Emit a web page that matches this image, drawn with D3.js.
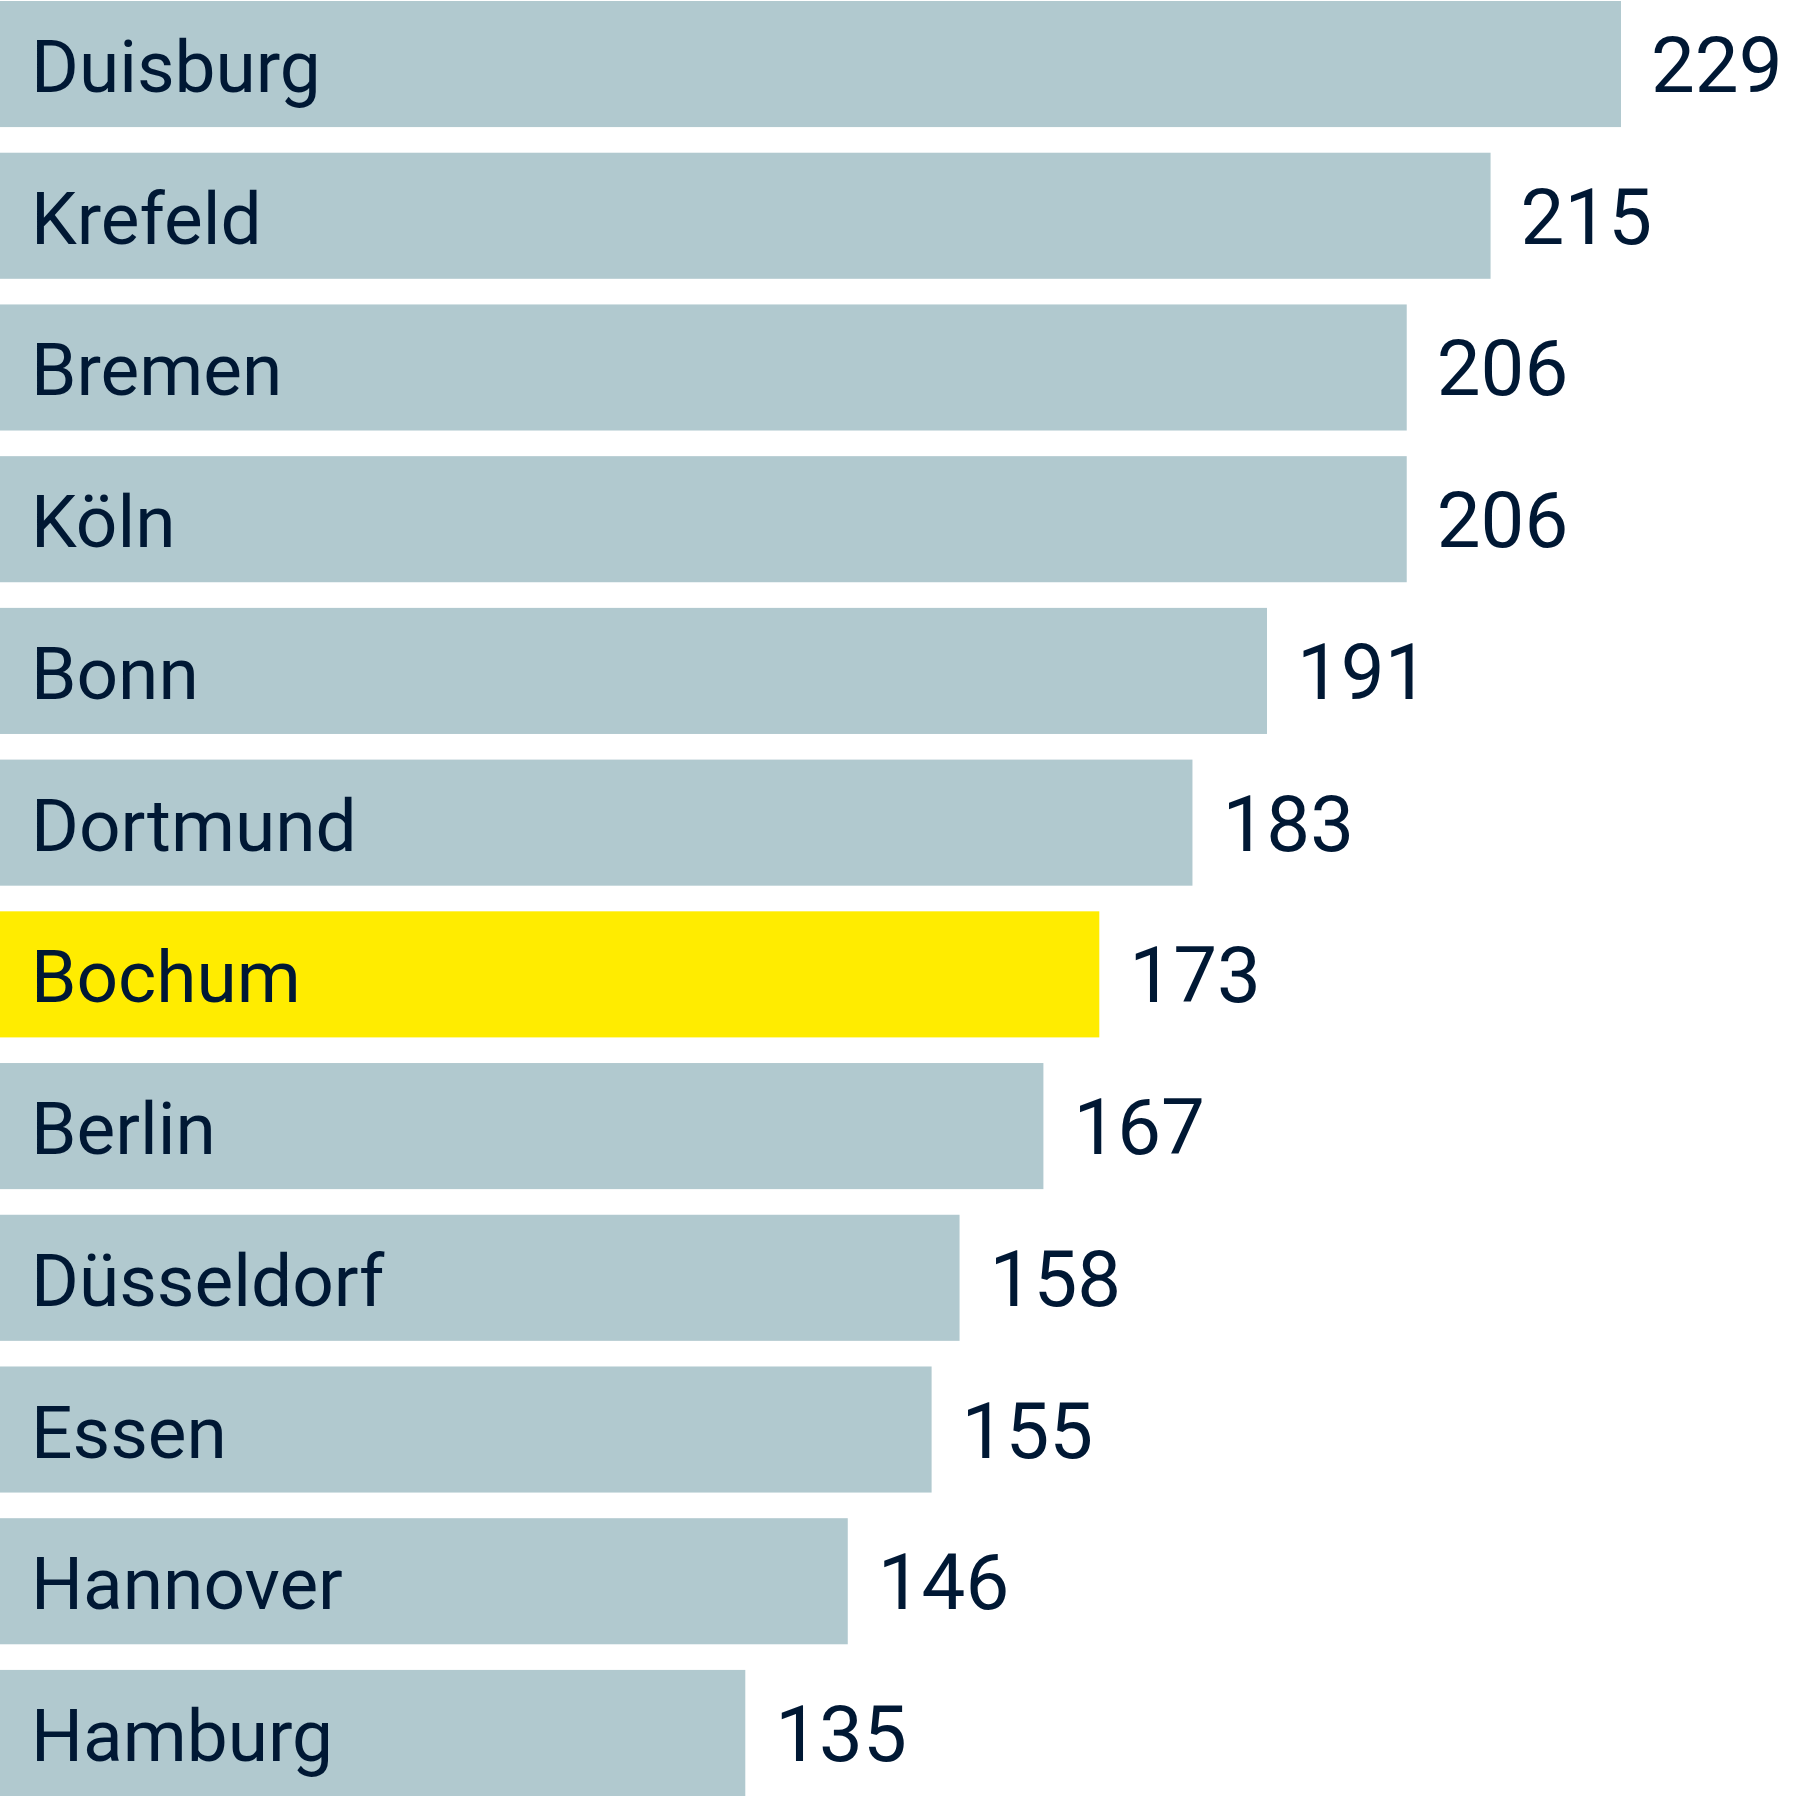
<!DOCTYPE html>
<html>
<head>
<meta charset="utf-8">
<script src="https://cdn.jsdelivr.net/npm/d3@7"></script>
<style>
  html, body { margin: 0; padding: 0; background: #ffffff; }
  svg { display: block; }
</style>
</head>
<body>
<script>
const cities = ["Duisburg", "Krefeld", "Bremen", "Köln", "Bonn", "Dortmund", "Bochum", "Berlin", "Düsseldorf", "Essen", "Hannover", "Hamburg"];
const values = [229, 215, 206, 206, 191, 183, 173, 167, 158, 155, 146, 135];
const highlight = ["Bochum"];

const W = 1800, H = 1800;
const svg = d3.select("body").append("svg").attr("width", W).attr("height", H);

const data = cities.map((c, i) => ({ city: c, value: values[i] }));

const x = d3.scaleLinear().domain([55, 229]).range([0, 1621]);
const y = d3.scaleBand().domain(cities).range([1, 1796]).paddingInner(0.169).paddingOuter(0);

const g = svg.append("g");

g.selectAll("rect.bar").data(data).join("rect")
  .attr("class", "bar")
  .attr("x", 0)
  .attr("y", d => y(d.city))
  .attr("width", d => x(d.value))
  .attr("height", y.bandwidth())
  .attr("fill", d => highlight.includes(d.city) ? "#ffec00" : "#b1c9cf");

g.selectAll("text.name").data(data).join("text")
  .attr("class", "name")
  .attr("x", 31)
  .attr("y", d => y(d.city) + y.bandwidth() / 2 + 28)
  .attr("font-family", "Roboto, sans-serif")
  .attr("font-size", 73)
  .attr("fill", "#001834")
  .text(d => d.city);

g.selectAll("text.val").data(data).join("text")
  .attr("class", "val")
  .attr("x", d => x(d.value) + 30)
  .attr("y", d => y(d.city) + y.bandwidth() / 2 + 28)
  .attr("font-family", "Roboto, sans-serif")
  .attr("font-size", 78)
  .attr("fill", "#001834")
  .text(d => d.value);
</script>
</body>
</html>
